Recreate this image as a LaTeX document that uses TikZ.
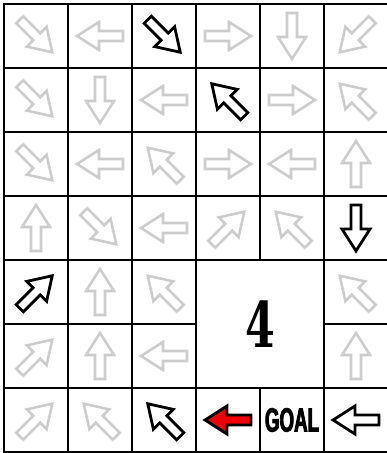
\documentclass[tikz,border=0pt]{standalone}
\usepackage{fontspec}
\usetikzlibrary{calc}
\definecolor{Ink}{HTML}{000000}
\definecolor{Dim}{HTML}{CCCCCC}
\definecolor{Hot}{HTML}{F00000}
\newfontfamily\numfont{DejaVu Serif}[FakeStretch=0.68]
\newfontfamily\goalfont{Liberation Sans}[FakeStretch=0.56,FakeBold=2.5]
\tikzset{
  blockarrow/.pic={
    \path[pic actions] (-0.359,-0.078) -- (0.016,-0.078) -- (0.016,-0.219) -- (0.359,0)
      -- (0.016,0.219) -- (0.016,0.078) -- (-0.359,0.078) -- cycle;
  }
}

\begin{document}
\begin{tikzpicture}[x=64pt,y=64pt,
  gridline/.style={Ink,line width=2.6pt},
  dimarrow/.style={draw=Dim,line width=2.6pt},
  hotarrow/.style={draw=Ink,line width=2.8pt},
  redarrow/.style={draw=Ink,fill=Hot,line width=2.8pt}]
\useasboundingbox (-0.0625,-7.015625) rectangle (5.96875,0.0625);
% grid
\draw[gridline] (0,0) rectangle (6,-7);
\draw[gridline] (1,0) -- (1,-7);
\draw[gridline] (2,0) -- (2,-7);
\draw[gridline] (3,0) -- (3,-7);
\draw[gridline] (4,0) -- (4,-4);
\draw[gridline] (4,-6) -- (4,-7);
\draw[gridline] (5,0) -- (5,-7);
\draw[gridline] (0,-1) -- (6,-1);
\draw[gridline] (0,-2) -- (6,-2);
\draw[gridline] (0,-3) -- (6,-3);
\draw[gridline] (0,-4) -- (6,-4);
\draw[gridline] (0,-5) -- (3,-5);
\draw[gridline] (5,-5) -- (6,-5);
\draw[gridline] (0,-6) -- (6,-6);
% row 1
\pic[dimarrow,rotate=-45] at (0.5,-0.5) {blockarrow};
\pic[dimarrow,rotate=180] at (1.5,-0.5) {blockarrow};
\pic[hotarrow,rotate=-45] at (2.5,-0.5) {blockarrow};
\pic[dimarrow,rotate=0] at (3.5,-0.5) {blockarrow};
\pic[dimarrow,rotate=-90] at (4.5,-0.5) {blockarrow};
\pic[dimarrow,rotate=-135] at (5.5,-0.5) {blockarrow};
% row 2
\pic[dimarrow,rotate=-45] at (0.5,-1.5) {blockarrow};
\pic[dimarrow,rotate=-90] at (1.5,-1.5) {blockarrow};
\pic[dimarrow,rotate=180] at (2.5,-1.5) {blockarrow};
\pic[hotarrow,rotate=135] at (3.5,-1.5) {blockarrow};
\pic[dimarrow,rotate=0] at (4.5,-1.5) {blockarrow};
\pic[dimarrow,rotate=135] at (5.5,-1.5) {blockarrow};
% row 3
\pic[dimarrow,rotate=-45] at (0.5,-2.5) {blockarrow};
\pic[dimarrow,rotate=180] at (1.5,-2.5) {blockarrow};
\pic[dimarrow,rotate=135] at (2.5,-2.5) {blockarrow};
\pic[dimarrow,rotate=0] at (3.5,-2.5) {blockarrow};
\pic[dimarrow,rotate=180] at (4.5,-2.5) {blockarrow};
\pic[dimarrow,rotate=90] at (5.5,-2.5) {blockarrow};
% row 4
\pic[dimarrow,rotate=90] at (0.5,-3.5) {blockarrow};
\pic[dimarrow,rotate=-45] at (1.5,-3.5) {blockarrow};
\pic[dimarrow,rotate=180] at (2.5,-3.5) {blockarrow};
\pic[dimarrow,rotate=45] at (3.5,-3.5) {blockarrow};
\pic[dimarrow,rotate=135] at (4.5,-3.5) {blockarrow};
\pic[hotarrow,rotate=-90] at (5.5,-3.5) {blockarrow};
% row 5
\pic[hotarrow,rotate=45] at (0.5,-4.5) {blockarrow};
\pic[dimarrow,rotate=90] at (1.5,-4.5) {blockarrow};
\pic[dimarrow,rotate=135] at (2.5,-4.5) {blockarrow};
\node[font=\numfont\bfseries\fontsize{63}{63}\selectfont,text=Ink] (four) at (4,-5) {4};
\pic[dimarrow,rotate=135] at (5.5,-4.5) {blockarrow};
% row 6
\pic[dimarrow,rotate=45] at (0.5,-5.5) {blockarrow};
\pic[dimarrow,rotate=90] at (1.5,-5.5) {blockarrow};
\pic[dimarrow,rotate=180] at (2.5,-5.5) {blockarrow};
\pic[dimarrow,rotate=90] at (5.5,-5.5) {blockarrow};
% row 7
\pic[dimarrow,rotate=45] at (0.5,-6.5) {blockarrow};
\pic[dimarrow,rotate=135] at (1.5,-6.5) {blockarrow};
\pic[hotarrow,rotate=135] at (2.5,-6.5) {blockarrow};
\pic[redarrow,rotate=180] at (3.5,-6.5) {blockarrow};
\node[font=\goalfont\bfseries\fontsize{33.5}{33.5}\selectfont,text=Ink] (goal) at (4.5,-6.5) {GOAL};
\pic[hotarrow,rotate=180] at (5.5,-6.5) {blockarrow};
\end{tikzpicture}
\end{document}
